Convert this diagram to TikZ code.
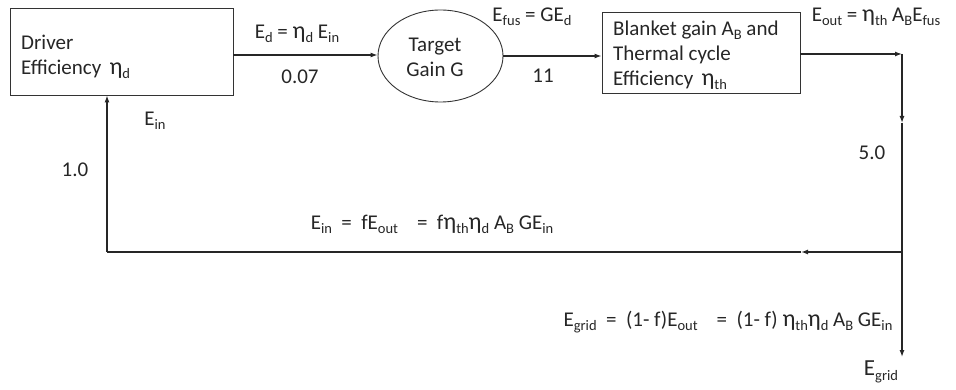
\documentclass[tikz,border=0pt]{standalone}
\usepackage{fontspec}
\setmainfont{Carlito}
\usetikzlibrary{arrows.meta,shapes.geometric}
\newcommand{\lo}[1]{\raisebox{-0.4ex}{\fontsize{14.5}{15}\selectfont #1}}
\newcommand{\et}{{\fontsize{24}{25}\selectfont η}}
\newcommand{\eqs}{\hspace{0.45em}=\hspace{0.45em}}
\begin{document}
\begin{tikzpicture}[x=1pt,y=-1pt,
  every node/.style={font=\fontsize{21}{25}\selectfont, text=black!85},
  box/.style={draw=black!80, line width=0.9pt, inner sep=0pt},
  conn/.style={draw=black!85, line width=1.3pt},
  tip/.style={-{Latex[length=7pt,width=5pt]}},
  lbl/.style={inner sep=0pt, anchor=center}]
\useasboundingbox (0,0) rectangle (956,390);
% boxes
\node[box, minimum width=223pt, minimum height=87pt] (drv) at (121.5,51.5) {};
\node[lbl, anchor=west, align=left] (drvt) at (21,57) {Driver\\[0pt]Efficiency \,\et\lo{d}};
\node[ellipse, draw=black!80, line width=0.9pt, minimum width=125pt, minimum height=92pt, inner sep=0pt] (tgt) at (440.5,56) {};
\node[lbl, align=center] (tgtt) at (435,57) {Target\\[0pt]Gain G};
\node[box, minimum width=198pt, minimum height=81pt] (bl) at (701,52.5) {};
\node[lbl, anchor=west, align=left] (blt) at (613,55) {Blanket gain A\lo{B} and\\[0pt]Thermal cycle\\[0pt]Efficiency \,\et\lo{th}};
% coordinates
\coordinate (c1) at (902,54);
\coordinate (c1m) at (902,123);
\coordinate (c2) at (902,252);
\coordinate (c2m) at (801,252);
\coordinate (c3) at (107,252);
\coordinate (grid) at (902,357);
% connectors
\draw[conn, tip] (drv.east |- 0,55) -- (tgt.west |- 0,55);
\draw[conn, tip] (tgt.east |- 0,56) -- (bl.west |- 0,56);
\draw[conn, tip] (bl.east |- c1) -- (c1);
\draw[conn, tip] (c1) -- (c1m);
\draw[conn] (c1m) -- (c2);
\draw[conn, tip] (c2) -- (c2m);
\draw[conn] (c2m) -- (c3);
\draw[conn, tip] (c3) -- (c3 |- drv.south);
\draw[conn, tip] (c2) -- (grid);
% labels
\node[lbl] (l1) at (297,34) {E\lo{d} = \et\lo{d} E\lo{in}};
\node[lbl] (l2) at (300,77) {0.07};
\node[lbl] (l3) at (532,17) {E\lo{fus} = GE\lo{d}};
\node[lbl] (l4) at (543,76) {11};
\node[lbl] (l5) at (876,17) {E\lo{out} = \et\lo{th} A\lo{B}E\lo{fus}};
\node[lbl] (l6) at (872,153) {5.0};
\node[lbl] (l7) at (155,121) {E\lo{in}};
\node[lbl] (l8) at (75,170) {1.0};
\node[lbl] (l9) at (432,224) {E\lo{in}\eqs fE\lo{out} \ \eqs f\et\lo{th}\et\lo{d} A\lo{B} GE\lo{in}};
\node[lbl] (l10) at (728,322) {E\lo{grid}\eqs(1- f)E\lo{out} \ \eqs(1- f) \et\lo{th}\et\lo{d} A\lo{B} GE\lo{in}};
\node[lbl, font=\fontsize{23}{26}\selectfont] (l11) at (881,372) {E\lo{grid}};
\end{tikzpicture}
\end{document}
